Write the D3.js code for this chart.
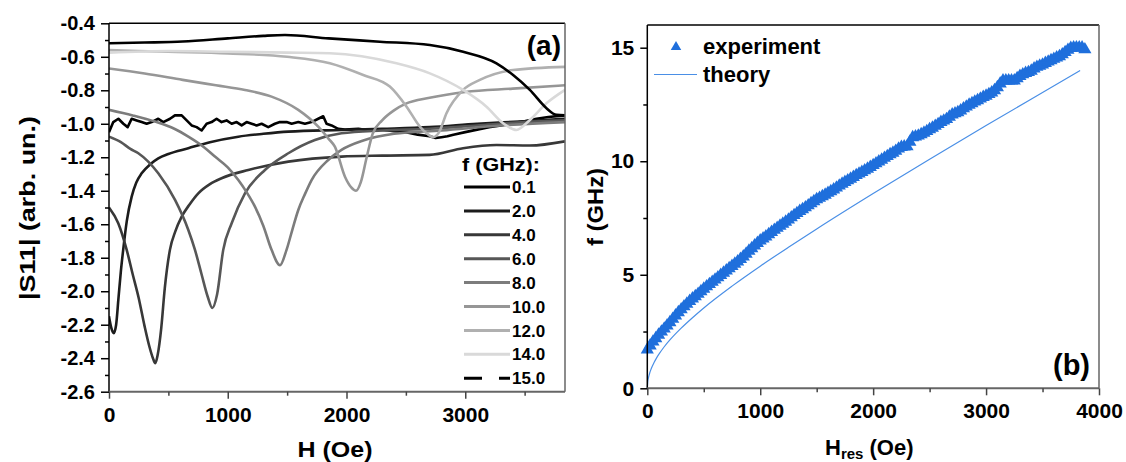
<!DOCTYPE html>
<html>
<head>
<meta charset="utf-8">
<script src="https://cdn.jsdelivr.net/npm/d3@7"></script>
<style>
  body { margin: 0; background: #fff; }
  text { font-family: "Liberation Sans", Arial, sans-serif; font-weight: bold; }
</style>
</head>
<body>
<svg id="chart" width="1126" height="462"></svg>
<script>
// ---------- data ----------
// panel (a): |S11| vs H (Oe), one trace per frequency
const freqLabels = ["0.1", "2.0", "4.0", "6.0", "8.0", "10.0", "12.0", "14.0", "15.0"];
const freqColors = ["#000", "#1c1c1c", "#383838", "#575757", "#7c7c7c", "#969696", "#b0b0b0", "#d9d9d9", "#000"];

const s11_0_1 = [[0,-1.05],[36,-0.99],[79,-0.97],[121,-1.0],[157,-1.02],[191,-0.97],[233,-0.98],[275,-0.99],
  [317,-1.0],[359,-0.99],[415,-0.97],[457,-0.99],[514,-0.97],[555,-0.95],[612,-0.95],[654,-0.98],[696,-1.01],
  [738,-1.02],[780,-1.04],[822,-1.0],[864,-0.99],[906,-0.97],[948,-0.99],[990,-0.98],[1033,-1.0],[1075,-0.99],
  [1117,-1.01],[1159,-0.99],[1201,-1.0],[1243,-1.01],[1285,-1.0],[1341,-1.02],[1397,-1.0],[1439,-0.99],
  [1496,-0.99],[1538,-1.0],[1594,-0.99],[1650,-1.0],[1706,-0.99],[1762,-0.97],[1804,-0.955],[1832,-1.0],
  [1874,-1.01],[1930,-1.03],[1987,-1.035],[2100,-1.03],[2200,-1.04],[2300,-1.035],[2400,-1.045],[2500,-1.05],
  [2600,-1.065],[2700,-1.075],[2750,-1.085],[2800,-1.08],[2850,-1.075],[2900,-1.065],[3000,-1.05],[3100,-1.035],
  [3200,-1.02],[3300,-1.01],[3400,-0.995],[3500,-0.985],[3600,-0.97],[3700,-0.96],[3840,-0.95]];
const s11_2 = [[0,-2.15],[20,-2.22],[40,-2.25],[60,-2.2],[80,-2.04],[100,-1.88],[120,-1.75],[150,-1.58],
  [191,-1.435],[230,-1.35],[275,-1.296],[350,-1.24],[415,-1.206],[500,-1.18],[668,-1.146],[850,-1.11],
  [1089,-1.077],[1300,-1.06],[1510,-1.047],[1958,-1.037],[2300,-1.03],[2700,-1.02],[3100,-1.0],[3500,-0.985],[3840,-0.97]];
const s11_4 = [[0,-1.5],[78,-1.594],[149,-1.753],[200,-1.9],[250,-2.04],[300,-2.21],[340,-2.33],[370,-2.4],
  [390,-2.43],[410,-2.38],[440,-2.22],[470,-1.98],[513,-1.753],[560,-1.64],[612,-1.555],[680,-1.48],[752,-1.415],
  [850,-1.36],[948,-1.325],[1173,-1.276],[1510,-1.226],[1958,-1.196],[2300,-1.19],[2700,-1.186],[2982,-1.146],
  [3263,-1.127],[3544,-1.13],[3840,-1.105]];
const s11_6 = [[0,-1.077],[100,-1.11],[180,-1.15],[247,-1.176],[415,-1.296],[556,-1.455],[668,-1.634],[724,-1.753],
  [780,-1.9],[830,-2.03],[870,-2.1],[910,-2.02],[962,-1.753],[1033,-1.594],[1145,-1.415],[1313,-1.276],
  [1510,-1.176],[1734,-1.097],[1958,-1.057],[2300,-1.04],[2700,-1.03],[3100,-1.01],[3500,-0.99],[3840,-0.98]];
const s11_8 = [[0,-0.917],[200,-0.95],[387,-0.987],[550,-1.03],[668,-1.077],[800,-1.14],[892,-1.196],[1000,-1.26],
  [1089,-1.336],[1160,-1.41],[1229,-1.495],[1300,-1.61],[1369,-1.753],[1440,-1.845],[1495,-1.753],[1545,-1.63],
  [1594,-1.515],[1650,-1.42],[1706,-1.336],[1846,-1.216],[1958,-1.156],[2141,-1.1],[2400,-1.06],[2800,-1.04],
  [3300,-1.01],[3840,-0.99]];
const s11_10 = [[0,-0.67],[300,-0.7],[620,-0.738],[900,-0.77],[1145,-0.798],[1369,-0.838],[1594,-0.917],
  [1762,-1.017],[1850,-1.09],[1902,-1.137],[1987,-1.316],[2040,-1.38],[2080,-1.4],[2120,-1.35],[2170,-1.2],
  [2220,-1.06],[2300,-0.98],[2400,-0.92],[2500,-0.88],[2700,-0.845],[3000,-0.81],[3400,-0.79],[3840,-0.77]];
const s11_12 = [[0,-0.56],[500,-0.57],[1000,-0.58],[1500,-0.6],[1860,-0.639],[2141,-0.709],[2365,-0.778],
  [2506,-0.898],[2618,-1.017],[2680,-1.06],[2730,-1.08],[2780,-1.05],[2842,-0.937],[2982,-0.798],[3123,-0.738],
  [3403,-0.679],[3840,-0.66]];
const s11_14 = [[0,-0.575],[500,-0.565],[1000,-0.57],[1500,-0.575],[1860,-0.579],[2421,-0.639],[2702,-0.699],
  [2982,-0.798],[3179,-0.898],[3319,-0.997],[3431,-1.037],[3544,-0.977],[3684,-0.878],[3840,-0.798]];
const s11_15 = [[0,-0.519],[300,-0.515],[621,-0.509],[1000,-0.49],[1300,-0.475],[1482,-0.47],[1850,-0.49],
  [2281,-0.51],[2702,-0.53],[2982,-0.57],[3263,-0.639],[3403,-0.709],[3544,-0.798],[3684,-0.907],[3768,-0.947],[3840,-0.95]];
const s11Series = [s11_0_1, s11_2, s11_4, s11_6, s11_8, s11_10, s11_12, s11_14, s11_15];

const xTicksA = [0, 1000, 2000, 3000];
const xMinorA = [500, 1500, 2500, 3500];
const yTicksA = [-2.6, -2.4, -2.2, -2.0, -1.8, -1.6, -1.4, -1.2, -1.0, -0.8, -0.6, -0.4];
const yMinorA = [-2.5, -2.3, -2.1, -1.9, -1.7, -1.5, -1.3, -1.1, -0.9, -0.7, -0.5];

// panel (b): resonance frequency (GHz) vs resonance field (Oe), measured every 25 Oe
const expH = [0,25,50,75,100,125,150,175,200,225,250,275,300,325,350,375,400,425,450,475,500,525,550,575,
  600,625,650,675,700,725,750,775,800,825,850,875,900,925,950,975,1000,1025,1050,1075,1100,1125,1150,1175,
  1200,1225,1250,1275,1300,1325,1350,1375,1400,1425,1450,1475,1500,1525,1550,1575,1600,1625,1650,1675,
  1700,1725,1750,1775,1800,1825,1850,1875,1900,1925,1950,1975,2000,2025,2050,2075,2100,2125,2150,2175,
  2200,2225,2250,2275,2300,2325,2350,2375,2400,2425,2450,2475,2500,2525,2550,2575,2600,2625,2650,2675,
  2700,2725,2750,2775,2800,2825,2850,2875,2900,2925,2950,2975,3000,3025,3050,3075,3100,3125,3150,3175,
  3200,3225,3250,3275,3300,3325,3350,3375,3400,3425,3450,3475,3500,3525,3550,3575,3600,3625,3650,3675,
  3700,3725,3750,3775,3800,3825,3850,3875];
const expF = [1.70,1.88,2.05,2.20,2.35,2.49,2.62,2.76,2.90,3.05,3.20,3.34,3.47,3.60,3.72,3.84,3.95,4.05,4.15,4.27,
  4.38,4.48,4.58,4.68,4.78,4.88,4.98,5.08,5.18,5.28,5.38,5.48,5.58,5.69,5.80,5.92,6.05,6.16,6.28,6.39,
  6.50,6.59,6.68,6.78,6.88,6.97,7.06,7.15,7.24,7.33,7.42,7.52,7.62,7.71,7.80,7.88,7.96,8.05,8.14,8.23,
  8.32,8.38,8.45,8.52,8.60,8.67,8.75,8.83,8.92,9.00,9.08,9.15,9.22,9.30,9.38,9.45,9.52,9.59,9.66,9.74,
  9.82,9.90,9.98,10.06,10.14,10.22,10.30,10.37,10.45,10.55,10.62,10.64,10.65,10.85,11.05,11.08,11.12,11.18,
  11.25,11.32,11.40,11.47,11.55,11.63,11.72,11.78,11.85,11.95,12.05,12.10,12.15,12.23,12.32,12.40,12.48,12.55,
  12.62,12.68,12.75,12.82,12.88,12.95,13.02,13.12,13.25,13.42,13.55,13.55,13.55,13.55,13.55,13.65,13.75,13.82,
  13.88,13.92,13.98,14.08,14.15,14.20,14.25,14.32,14.38,14.44,14.50,14.56,14.62,14.70,14.80,14.90,14.98,15.00,
  15.00,15.00,15.00,14.92];
const theoryH = [0,5,10,20,30,45,60,80,100,150,200,300,400,500,750,1000,1250,1500,2000,2500,3000,3500,3833];
const theoryF = [0,0.33,0.46,0.65,0.80,0.98,1.14,1.32,1.48,1.83,2.13,2.65,3.11,3.54,4.50,5.38,6.21,7.02,8.58,10.09,11.57,13.03,14.0];

const xTicksB = [0, 1000, 2000, 3000, 4000];
const xMinorB = [500, 1500, 2500, 3500];
const yTicksB = [0, 5, 10, 15];
const yMinorB = [2.5, 7.5, 12.5];

// ---------- drawing ----------
const svg = d3.select("#chart");

function frame(x0, x1, y0, y1) {
    svg.append("line").attr("x1", x0).attr("x2", x1).attr("y1", y0).attr("y2", y0)
        .attr("stroke", "#000").attr("stroke-width", 1.5);
    svg.append("line").attr("x1", x0).attr("x2", x0).attr("y1", y0).attr("y2", y1)
        .attr("stroke", "#000").attr("stroke-width", 1.5);
    svg.append("line").attr("x1", x1).attr("x2", x1).attr("y1", y0).attr("y2", y1)
        .attr("stroke", "#666").attr("stroke-width", 1.5);
    svg.append("line").attr("x1", x0).attr("x2", x1).attr("y1", y1).attr("y2", y1)
        .attr("stroke", "#666").attr("stroke-width", 2);
}

function styleAxis(g, size, color) {
    g.select(".domain").remove();
    g.selectAll("line").attr("stroke", color).attr("stroke-width", 1.5);
    g.selectAll("text").attr("font-size", size).attr("fill", "#000")
        .attr("font-family", "Liberation Sans, Arial, sans-serif").attr("font-weight", "bold");
}

// ----- panel (a)
const xA = d3.scaleLinear().domain([0, 3840]).range([109, 565]);
const yA = d3.scaleLinear().domain([-2.6, -0.4]).range([391.7, 23.3]);

svg.append("clipPath").attr("id", "clipA").append("rect")
    .attr("x", 109).attr("y", 23.3).attr("width", 456).attr("height", 368.4);

const lineA = d3.line().x(d => xA(d[0])).y(d => yA(d[1]));

svg.append("g").attr("clip-path", "url(#clipA)")
    .selectAll("path")
    .data(s11Series)
    .enter()
    .append("path")
    // the 0.1 GHz trace is noisy, keep it piecewise linear
    .attr("d", (d, i) => i === 0 ? lineA.curve(d3.curveLinear)(d) : lineA.curve(d3.curveMonotoneX)(d))
    .attr("fill", "none")
    .attr("stroke", (d, i) => freqColors[i])
    .attr("stroke-width", 2.6)
    .attr("stroke-linejoin", "round");

frame(109, 565, 23.3, 391.7);

svg.append("g").attr("transform", "translate(0,391.7)")
    .call(d3.axisBottom(xA).tickValues(xTicksA).tickSize(7).tickPadding(8).tickFormat(d3.format("d")))
    .call(g => styleAxis(g, 21, "#444"));
svg.append("g").attr("transform", "translate(0,391.7)")
    .call(d3.axisBottom(xA).tickValues(xMinorA).tickSize(4).tickFormat(""))
    .call(g => styleAxis(g, 21, "#444"));
svg.append("g").attr("transform", "translate(109,0)")
    .call(d3.axisLeft(yA).tickValues(yTicksA).tickSize(8).tickPadding(6).tickFormat(d => d.toFixed(1)))
    .call(g => styleAxis(g, 20, "#000"));
svg.append("g").attr("transform", "translate(109,0)")
    .call(d3.axisLeft(yA).tickValues(yMinorA).tickSize(4).tickFormat(""))
    .call(g => styleAxis(g, 20, "#000"));

svg.append("text").attr("x", 335).attr("y", 457).attr("text-anchor", "middle")
    .attr("font-size", 22).attr("textLength", 75).attr("lengthAdjust", "spacingAndGlyphs").text("H (Oe)");
svg.append("text").attr("transform", "translate(35,208) rotate(-90)").attr("text-anchor", "middle")
    .attr("font-size", 22).attr("textLength", 184).attr("lengthAdjust", "spacingAndGlyphs").text("|S11| (arb. un.)");
svg.append("text").attr("x", 561).attr("y", 55).attr("text-anchor", "end")
    .attr("font-size", 28).text("(a)");

// legend (a)
const legA = svg.append("g").attr("class", "legendA");
legA.append("text").attr("x", 462).attr("y", 171).attr("font-size", 19)
    .attr("textLength", 78).attr("lengthAdjust", "spacingAndGlyphs").text("f (GHz):");
const legEntry = legA.selectAll("g.entry").data(freqLabels).enter().append("g").attr("class", "entry");
legEntry.append("line")
    .attr("x1", 464).attr("x2", 510)
    .attr("y1", (d, i) => 187 + i * 23.9).attr("y2", (d, i) => 187 + i * 23.9)
    .attr("stroke", (d, i) => freqColors[i]).attr("stroke-width", 3)
    .attr("stroke-dasharray", (d, i) => i === 8 ? "18 17 11 100" : null);
legEntry.append("text")
    .attr("x", 512).attr("y", (d, i) => 187 + i * 23.9).attr("dy", "0.36em")
    .attr("font-size", 17).text(d => d);

// ----- panel (b)
const xB = d3.scaleLinear().domain([0, 4000]).range([647.3, 1099]);
const yB = d3.scaleLinear().domain([0, 16]).range([388.3, 25]);

const expData = expH.map((h, i) => [h, expF[i]]);
const theoryData = theoryH.map((h, i) => [h, theoryF[i]]);

svg.append("path")
    .datum(theoryData)
    .attr("d", d3.line().x(d => xB(d[0])).y(d => yB(d[1])).curve(d3.curveMonotoneX))
    .attr("fill", "none").attr("stroke", "#4a8fe6").attr("stroke-width", 1.2);

const tri = d3.symbol().type(d3.symbolTriangle).size(75);
svg.append("g").selectAll("path")
    .data(expData)
    .enter()
    .append("path")
    .attr("d", tri)
    .attr("transform", d => "translate(" + xB(d[0]) + "," + yB(d[1]) + ")")
    .attr("fill", "#1f6fdc");

frame(647.3, 1099, 25, 388.3);

svg.append("g").attr("transform", "translate(0,388.3)")
    .call(d3.axisBottom(xB).tickValues(xTicksB).tickSize(7).tickPadding(8).tickFormat(d3.format("d")))
    .call(g => styleAxis(g, 21, "#444"));
svg.append("g").attr("transform", "translate(0,388.3)")
    .call(d3.axisBottom(xB).tickValues(xMinorB).tickSize(4).tickFormat(""))
    .call(g => styleAxis(g, 21, "#444"));
svg.append("g").attr("transform", "translate(647.3,0)")
    .call(d3.axisLeft(yB).tickValues(yTicksB).tickSize(7).tickPadding(6).tickFormat(d3.format("d")))
    .call(g => styleAxis(g, 21, "#000"));
svg.append("g").attr("transform", "translate(647.3,0)")
    .call(d3.axisLeft(yB).tickValues(yMinorB).tickSize(4).tickFormat(""))
    .call(g => styleAxis(g, 21, "#000"));

const hres = svg.append("text").attr("x", 825).attr("y", 455).attr("font-size", 22);
hres.append("tspan").text("H");
hres.append("tspan").attr("font-size", 15).attr("dy", 4).text("res");
hres.append("tspan").attr("dy", -4).text(" (Oe)");

svg.append("text").attr("transform", "translate(603,207) rotate(-90)").attr("text-anchor", "middle")
    .attr("font-size", 22).attr("textLength", 78).attr("lengthAdjust", "spacingAndGlyphs").text("f (GHz)");
svg.append("text").attr("x", 1090).attr("y", 375).attr("text-anchor", "end")
    .attr("font-size", 29).text("(b)");

// legend (b)
svg.append("path").attr("d", d3.symbol().type(d3.symbolTriangle).size(48))
    .attr("transform", "translate(676,47)").attr("fill", "#1f6fdc");
svg.append("text").attr("x", 703).attr("y", 46).attr("dy", "0.36em").attr("font-size", 22).text("experiment");
svg.append("line").attr("x1", 654).attr("x2", 697).attr("y1", 74.5).attr("y2", 74.5)
    .attr("stroke", "#4a8fe6").attr("stroke-width", 1.2);
svg.append("text").attr("x", 703).attr("y", 74).attr("dy", "0.36em").attr("font-size", 22).text("theory");
</script>
</body>
</html>
